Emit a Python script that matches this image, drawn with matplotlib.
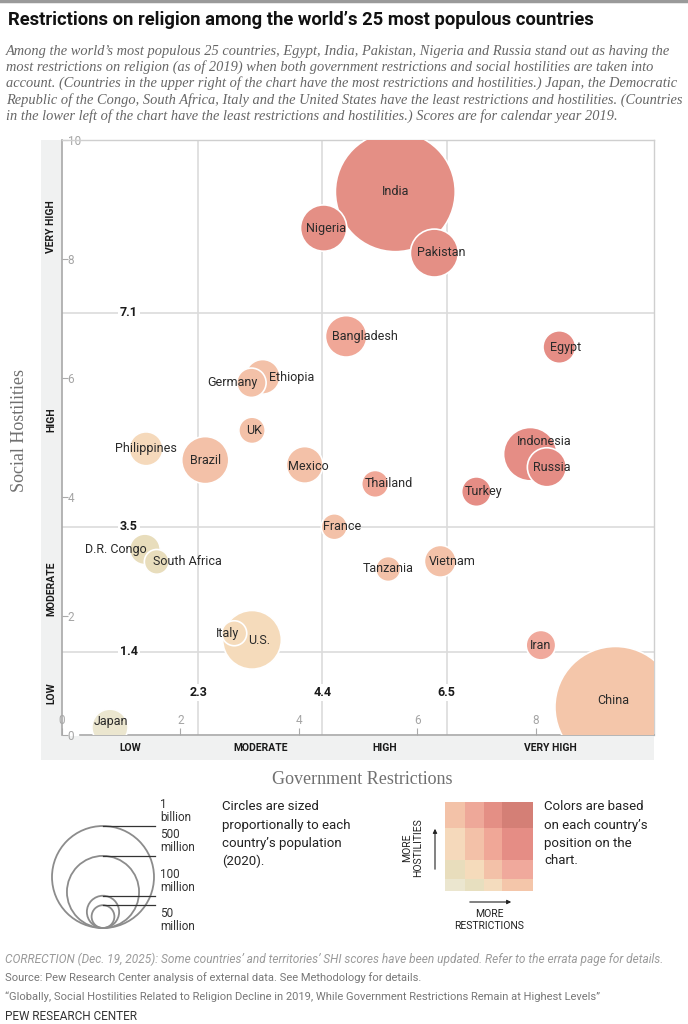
import numpy as np
import matplotlib.pyplot as plt
from matplotlib.patches import Rectangle, Circle
from matplotlib.colors import ListedColormap
from matplotlib.transforms import blended_transform_factory

# scores for 2019, population 2020 (millions)
countries = ["India", "Nigeria", "Pakistan", "Bangladesh", "Egypt", "Ethiopia", "Germany", "UK",
             "Philippines", "Brazil", "Mexico", "Indonesia", "Russia", "Thailand", "Turkey", "France",
             "D.R. Congo", "South Africa", "Tanzania", "Vietnam", "Italy", "U.S.", "Iran", "China", "Japan"]
gri = [5.63, 4.42, 6.29, 4.80, 8.40, 3.39, 3.20, 3.21, 1.42, 2.42, 4.10, 7.91, 8.19, 5.29, 7.00, 4.60,
       1.40, 1.60, 5.51, 6.39, 2.91, 3.21, 8.09, 9.35, 0.81]
shi = [9.13, 8.52, 8.10, 6.70, 6.52, 6.02, 5.92, 5.12, 4.81, 4.62, 4.54, 4.72, 4.50, 4.22, 4.09, 3.50,
       3.12, 2.91, 2.79, 2.92, 1.71, 1.60, 1.51, 0.47, 0.13]
pop_m = [1380, 206, 221, 165, 102, 115, 83, 67, 110, 213, 129, 274, 146, 70, 84, 65,
         90, 59, 60, 97, 60, 331, 84, 1411, 126]

gri_cuts = [2.3, 4.4, 6.5]
shi_cuts = [1.4, 3.5, 7.1]
levels = ["LOW", "MODERATE", "HIGH", "VERY HIGH"]
legend_pops = [1000, 500, 100, 50]
legend_names = ["1\nbillion", "500\nmillion", "100\nmillion", "50\nmillion"]

# rows: low -> very high hostilities, cols: low -> very high restrictions
palette = [
    ["#ebe6cf", "#e7dfbf", "#f4dcbe", "#f4c6aa"],
    ["#e8ddbc", "#f5dbbb", "#f3c1a8", "#f0a99c"],
    ["#f5d9bb", "#f3c1a8", "#f0a797", "#e58d85"],
    ["#f3c2a8", "#eea899", "#e48f85", "#d47f76"],
]

# label nudges in pixels (dx, dy up)
nudge = {"Nigeria": (2, 0), "Pakistan": (7, 1), "Bangladesh": (19, 0), "Egypt": (6, 0),
         "Germany": (-19, 0), "Ethiopia": (29, -1), "UK": (2, 0), "Mexico": (4, -2),
         "Indonesia": (14, 13), "Russia": (5, 0), "Thailand": (14, 0), "Turkey": (7, 0),
         "France": (8, 0), "D.R. Congo": (-29, 0), "South Africa": (31, 0), "Vietnam": (12, 0),
         "Italy": (-7, 0), "U.S.": (7, -1), "China": (-2, 7), "Japan": (1, 6)}

W, H = 688, 1024
K = 51  # px radius of a 1 billion circle

SANS = ["Roboto", "DejaVu Sans"]
NARROW = ["Liberation Sans Narrow", "Roboto", "DejaVu Sans"]
SERIF = ["Liberation Serif", "DejaVu Serif"]

fig = plt.figure(figsize=(W / 100, H / 100), dpi=100)
deco = fig.add_axes([0, 0, 1, 1])
deco.set_xlim(0, W)
deco.set_ylim(H, 0)
deco.axis("off")

ax = fig.add_axes([62 / W, 1 - 735 / H, 592 / W, 595 / H], zorder=2)
ax.patch.set_alpha(0)
ax.set_xlim(0, 10)
ax.set_ylim(0, 10)

# gray bands around the plot
deco.add_patch(Rectangle((41, 140), 21, 620, color="#f0f1f1", lw=0))
deco.add_patch(Rectangle((41, 736), 613, 24, color="#f0f1f1", lw=0))
deco.plot([0, W], [1, 1], color="#9a9a9a", lw=2.5)

for t in gri_cuts:
    ax.axvline(t, color="#dcdcdc", lw=1.2, zorder=0)
for t in shi_cuts:
    ax.axhline(t, color="#dcdcdc", lw=1.2, zorder=0)

for sp in ["top", "right"]:
    ax.spines[sp].set_color("#cfcfcf")
    ax.spines[sp].set_linewidth(1)
for sp in ["left", "bottom"]:
    ax.spines[sp].set_color("#a8a8a8")
    ax.spines[sp].set_linewidth(1.2)
ax.spines["bottom"].set_bounds(0.3, 10)

ax.set_xticks([0, 2, 4, 6, 8])
ax.set_yticks([0, 2, 4, 6, 8, 10])
ax.tick_params(axis="x", direction="in", length=5, width=0.8, color="#aaaaaa",
               pad=-15, labelsize=8.5, labelcolor="#a5a5a5")
ax.tick_params(axis="y", direction="in", length=4, width=0.8, color="#aaaaaa",
               pad=-4, labelsize=8.5, labelcolor="#a5a5a5")
for lbl in ax.get_yticklabels():
    lbl.set_ha("left")
for lbl in ax.get_xticklabels() + ax.get_yticklabels():
    lbl.set_family(SANS)

# bubbles
pop = np.array(pop_m, dtype=float)
r_px = K * np.sqrt(pop / 1000)
sizes = (2 * r_px * 0.72) ** 2
cols = [palette[np.searchsorted(shi_cuts, y, side="left")][np.searchsorted(gri_cuts, x, side="left")]
        for x, y in zip(gri, shi)]
order = np.argsort(-pop)
ax.scatter(np.array(gri)[order], np.array(shi)[order], s=sizes[order],
           c=[cols[i] for i in order], edgecolors="white", linewidths=1.2, zorder=3)

for name, x, y in zip(countries, gri, shi):
    dx, dy = nudge.get(name, (0, 0))
    ax.annotate(name, (x, y), xytext=(dx * 0.72, dy * 0.72), textcoords="offset points",
                ha="center", va="center", fontsize=9, color="#2a2a2a", family=SANS, zorder=5)

# threshold values
for t in shi_cuts:
    ax.text(1.13, t, f"{t}", ha="center", va="center", fontsize=9, fontweight="bold",
            color="#1a1a1a", family=SANS, zorder=2,
            bbox=dict(facecolor="white", edgecolor="none", pad=1.5))
for t in gri_cuts:
    ax.text(t, 0.72, f"{t}", ha="center", va="center", fontsize=9, fontweight="bold",
            color="#1a1a1a", family=SANS, zorder=2,
            bbox=dict(facecolor="white", edgecolor="none", pad=1.5))

# band labels
lo_x = [0] + gri_cuts
hi_x = gri_cuts + [10]
lo_y = [0] + shi_cuts
hi_y = shi_cuts + [10]
ty = blended_transform_factory(deco.transData, ax.transData)
tx = blended_transform_factory(ax.transData, deco.transData)
for a, b, name in zip(lo_y, hi_y, levels):
    ax.text(51.5, (a + b) / 2, name, transform=ty, rotation=90, ha="center", va="center",
            fontsize=7.5, fontweight="bold", color="#1a1a1a", family=SANS)
for a, b, name in zip(lo_x, hi_x, levels):
    ax.text((a + b) / 2, 748, name, transform=tx, ha="center", va="center",
            fontsize=7.5, fontweight="bold", color="#1a1a1a", family=SANS)

deco.text(20, 430, "Social Hostilities", rotation=90, ha="center", va="center",
          fontsize=13, color="#707070", family=SERIF)
deco.text(362, 780, "Government Restrictions", ha="center", va="center",
          fontsize=13, color="#707070", family=SERIF)

# title and subtitle
deco.text(8, 20, "Restrictions on religion among the world\u2019s 25 most populous countries",
          ha="left", va="center", fontsize=13.2, fontweight="bold", color="#111111", family=NARROW)
subtitle = [
    "Among the world\u2019s most populous 25 countries, Egypt, India, Pakistan, Nigeria and Russia stand out as having the",
    "most restrictions on religion (as of 2019) when both government restrictions and social hostilities are taken into",
    "account. (Countries in the upper right of the chart have the most restrictions and hostilities.) Japan, the Democratic",
    "Republic of the Congo, South Africa, Italy and the United States have the least restrictions and hostilities. (Countries",
    "in the lower left of the chart have the least restrictions and hostilities.) Scores are for calendar year 2019.",
]
for i, line in enumerate(subtitle):
    deco.text(6, 51 + 16.2 * i, line, ha="left", va="center", fontsize=10.4, style="italic",
              color="#666666", family=SERIF)

# size legend
cx, base = 103, 928
for p, lab in zip(legend_pops, legend_names):
    r = K * np.sqrt(p / 1000)
    deco.add_patch(Circle((cx, base - r), r, fill=False, edgecolor="#8c8c8c", lw=1.3))
    top = base - 2 * r
    deco.plot([cx, 155], [top, top], color="#333333", lw=0.9)
    if p >= 100:
        deco.text(160, top - 2, lab, ha="left", va="bottom", fontsize=8.5, color="#333333",
                  family=SANS, linespacing=1.0)
    else:
        deco.text(160, top + 2, lab, ha="left", va="top", fontsize=8.5, color="#333333",
                  family=SANS, linespacing=1.0)

size_note = ["Circles are sized", "proportionally to each", "country\u2019s population", "(2020)."]
color_note = ["Colors are based", "on each country\u2019s", "position on the", "chart."]
for i, (a, b) in enumerate(zip(size_note, color_note)):
    deco.text(222, 807 + 18 * i, a, ha="left", va="center", fontsize=9.5, color="#222222", family=SANS)
    deco.text(544, 807 + 18 * i, b, ha="left", va="center", fontsize=9.5, color="#222222", family=SANS)

# color legend: a miniature of the chart grid
lg = fig.add_axes([445 / W, 1 - 891 / H, 88 / W, 89 / H])
lg.pcolormesh([0] + gri_cuts + [10], [0] + shi_cuts + [10], np.arange(16).reshape(4, 4),
              cmap=ListedColormap([c for row in palette for c in row]), shading="flat")
lg.axis("off")
deco.text(413, 848, "MORE\nHOSTILITIES", rotation=90, ha="center", va="center", fontsize=7.5,
          color="#222222", family=SANS, linespacing=1.1)
deco.annotate("", xy=(435, 826), xytext=(435, 872),
              arrowprops=dict(arrowstyle="-|>", color="#222222", lw=0.8, mutation_scale=6))
deco.annotate("", xy=(514, 902), xytext=(467, 902),
              arrowprops=dict(arrowstyle="-|>", color="#222222", lw=0.8, mutation_scale=6))
deco.text(489, 920, "MORE\nRESTRICTIONS", ha="center", va="center", fontsize=7.5,
          color="#222222", family=SANS, linespacing=1.3)

# footer
deco.text(5, 959, "CORRECTION (Dec. 19, 2025): Some countries\u2019 and territories\u2019 SHI scores have been updated. "
          "Refer to the errata page for details.", ha="left", va="center", fontsize=8.6, style="italic",
          color="#9a9a9a", family=SANS)
deco.text(5, 978, "Source: Pew Research Center analysis of external data. See Methodology for details.",
          ha="left", va="center", fontsize=8, color="#777777", family=SANS)
deco.text(5, 997, "\u201cGlobally, Social Hostilities Related to Religion Decline in 2019, While Government "
          "Restrictions Remain at Highest Levels\u201d", ha="left", va="center", fontsize=8,
          color="#777777", family=SANS)
deco.text(5, 1017, "PEW RESEARCH CENTER", ha="left", va="center", fontsize=8.5, color="#333333", family=SANS)

fig.savefig("out.png", dpi=100, facecolor="white")
